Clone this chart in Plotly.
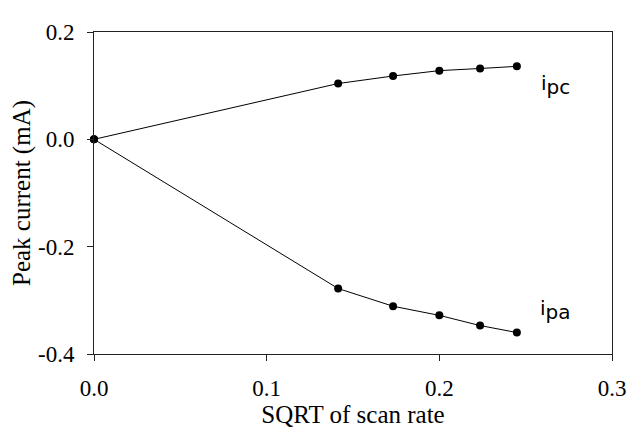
import plotly.graph_objects as go

# Data
scan_sqrt = [0.0, 0.1414, 0.1732, 0.2, 0.2236, 0.2449]
ipc = [0.0, 0.104, 0.118, 0.128, 0.132, 0.136]
ipa = [0.0, -0.278, -0.311, -0.328, -0.347, -0.360]

x_ticks = [0.0, 0.1, 0.2, 0.3]
x_ticklabels = ["0.0", "0.1", "0.2", "0.3"]
y_ticks = [-0.4, -0.2, 0.0, 0.2]
y_ticklabels = ["-0.4", "-0.2", "0.0", "0.2"]

fig = go.Figure()
for name, ys in [("ipc", ipc), ("ipa", ipa)]:
    fig.add_trace(go.Scatter(
        x=scan_sqrt, y=ys, mode="lines+markers", name=name,
        line=dict(color="black", width=1),
        marker=dict(color="black", size=8),
        cliponaxis=False, showlegend=False,
    ))

lab_font = dict(family="DejaVu Sans", size=20, color="black")
fig.add_annotation(x=0.258, y=0.101, xref="x", yref="y", xanchor="left", yanchor="middle",
                   text="i<sub><span style='font-size:20px'>pc</span></sub>",
                   showarrow=False, font=lab_font)
fig.add_annotation(x=0.257, y=-0.318, xref="x", yref="y", xanchor="left", yanchor="middle",
                   text="i<sub><span style='font-size:20px'>pa</span></sub>",
                   showarrow=False, font=lab_font)

axis_common = dict(
    showgrid=False, zeroline=False, showline=True, linecolor="#222", linewidth=1,
    mirror=True, ticks="outside", ticklen=6, tickcolor="#222", tickwidth=1,
    tickfont=dict(family="Liberation Serif", size=23, color="black"),
    ticklabeloverflow="allow",
)
fig.update_xaxes(range=[0, 0.3], tickvals=x_ticks, ticktext=x_ticklabels,
                 ticklabelstandoff=7,
                 title=dict(text="SQRT of scan rate",
                            font=dict(family="Liberation Serif", size=25, color="black"),
                            standoff=0),
                 **axis_common)
fig.update_yaxes(range=[-0.4, 0.2], tickvals=y_ticks, ticktext=y_ticklabels,
                 ticklabelstandoff=8,
                 title=dict(text="Peak current (mA)",
                            font=dict(family="Liberation Serif", size=25, color="black"),
                            standoff=0),
                 **axis_common)

# page body has an 8px margin: figure is 630x422 drawn at (8, 8)
fig.update_layout(
    width=630, height=422,
    margin=dict(l=84, r=18, t=13, b=68),
    plot_bgcolor="white", paper_bgcolor="white",
)
fig.write_html("out.html")
